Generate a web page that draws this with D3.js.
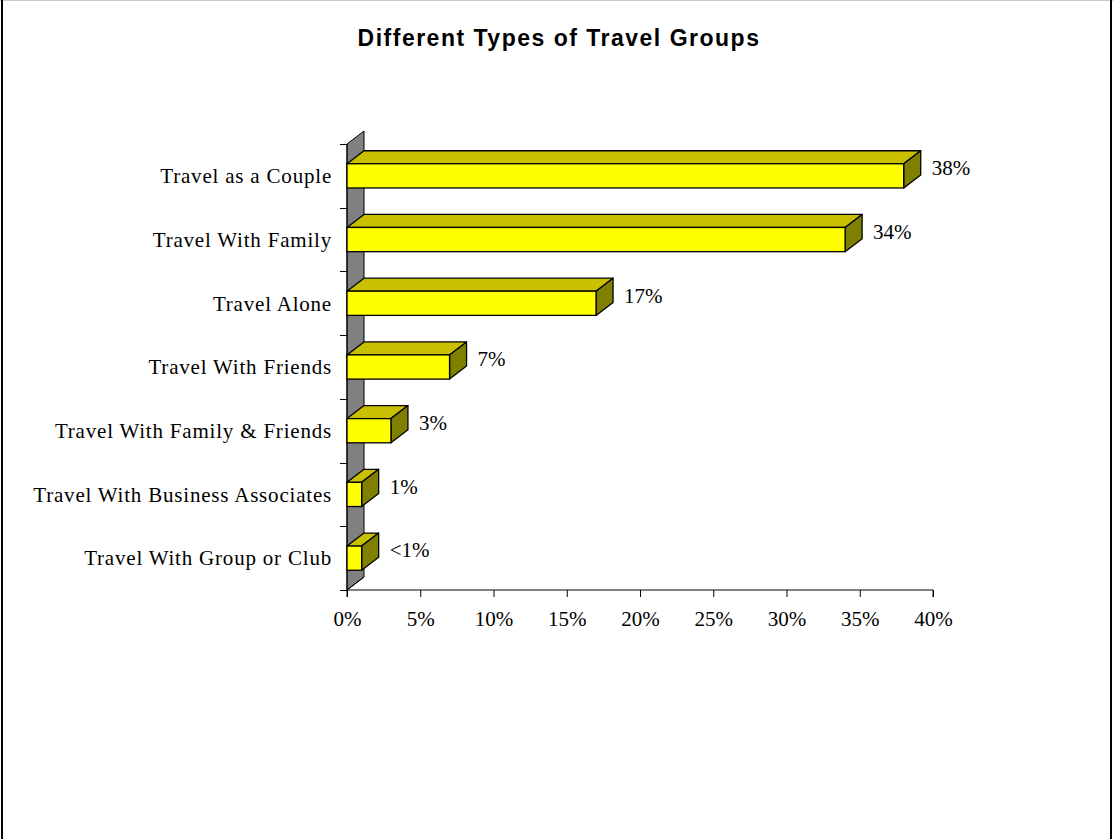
<!DOCTYPE html>
<html>
<head>
<meta charset="utf-8">
<script src="https://cdn.jsdelivr.net/npm/d3@7"></script>
<style>
  html, body { margin: 0; padding: 0; background: #fff; }
  svg { display: block; }
</style>
</head>
<body>
<svg id="chart" width="1113" height="839"></svg>
<script>
// Survey data: share of travellers by group type
const categories = [
  "Travel as a Couple",
  "Travel With Family",
  "Travel Alone",
  "Travel With Friends",
  "Travel With Family & Friends",
  "Travel With Business Associates",
  "Travel With Group or Club"
];
const values = [38, 34, 17, 7, 3, 1, 1];
const valueLabels = ["38%", "34%", "17%", "7%", "3%", "1%", "<1%"];
const xTicks = [0, 5, 10, 15, 20, 25, 30, 35, 40];

(function () {
  const W = 1113, H = 839;
  const svg = d3.select("#chart");

  // Page frame
  svg.append("rect").attr("x", 0).attr("y", 0).attr("width", W).attr("height", H).attr("fill", "#fff");
  svg.append("line").attr("x1", 0).attr("x2", W).attr("y1", 0.5).attr("y2", 0.5).attr("stroke", "#c8c8c8");
  svg.append("line").attr("x1", 2).attr("x2", 2).attr("y1", 0).attr("y2", H).attr("stroke", "#000").attr("stroke-width", 2);
  svg.append("line").attr("x1", 1111).attr("x2", 1111).attr("y1", 0).attr("y2", H).attr("stroke", "#000").attr("stroke-width", 2);

  // Title
  svg.append("text")
    .attr("x", 559).attr("y", 46)
    .attr("text-anchor", "middle")
    .attr("font-family", "Liberation Sans, Arial, sans-serif")
    .attr("font-weight", "bold")
    .attr("font-size", 23)
    .attr("letter-spacing", "1.5px")
    .text("Different Types of Travel Groups");

  // Plot geometry
  const pLeft = 347, pRight = 933, pTop = 144, pBottom = 590;
  const dx = 17, dy = -13; // 3D depth offset
  const serif = "Liberation Serif, Times New Roman, serif";
  const fs = 21;

  const x = d3.scaleLinear().domain([0, 40]).range([pLeft, pRight]);
  const y = d3.scaleBand().domain(categories).range([pTop, pBottom]).paddingInner(0.62).paddingOuter(0.31);

  // Back wall (grey) along the category axis
  svg.append("polygon")
    .attr("points", [[pLeft, pTop], [pLeft + dx, pTop + dy], [pLeft + dx, pBottom + dy], [pLeft, pBottom]].join(" "))
    .attr("fill", "#808080").attr("stroke", "#000").attr("stroke-width", 1);

  // Floor edge
  svg.append("line").attr("x1", pLeft).attr("y1", pBottom).attr("x2", pLeft + dx).attr("y2", pBottom + dy)
    .attr("stroke", "#000");

  // Category axis line and ticks
  svg.append("line").attr("x1", pLeft).attr("x2", pLeft).attr("y1", pTop).attr("y2", pBottom).attr("stroke", "#000");
  const bandStep = (pBottom - pTop) / categories.length;
  d3.range(categories.length + 1).forEach(i => {
    const yy = Math.round(pTop + i * bandStep) + 0.5;
    svg.append("line").attr("x1", pLeft - 7).attr("x2", pLeft).attr("y1", yy).attr("y2", yy).attr("stroke", "#000");
  });

  // Value axis
  const xAxis = d3.axisBottom(x).tickValues(xTicks).tickFormat(d => d + "%").tickSize(7).tickPadding(14);
  const gx = svg.append("g").attr("transform", `translate(0,${pBottom})`).call(xAxis);
  gx.select(".domain").attr("stroke", "#000").attr("d", `M${pLeft},7V0H${pRight}V7`);
  gx.selectAll(".tick line").attr("stroke", "#000");
  gx.selectAll(".tick text").attr("font-family", serif).attr("font-size", fs).attr("fill", "#000");

  // Bars as 3D boxes
  const bars = svg.append("g").selectAll("g").data(categories).join("g");
  bars.each(function (cat, i) {
    const g = d3.select(this);
    const x0 = x(0), x1 = x(values[i]);
    const y0 = y(cat), y1 = y(cat) + y.bandwidth();
    // top face
    g.append("polygon")
      .attr("points", [[x0, y0], [x0 + dx, y0 + dy], [x1 + dx, y0 + dy], [x1, y0]].join(" "))
      .attr("fill", "#C8C000").attr("stroke", "#000").attr("stroke-width", 1.3).attr("stroke-linejoin", "round");
    // side face
    g.append("polygon")
      .attr("points", [[x1, y0], [x1 + dx, y0 + dy], [x1 + dx, y1 + dy], [x1, y1]].join(" "))
      .attr("fill", "#808000").attr("stroke", "#000").attr("stroke-width", 1.3).attr("stroke-linejoin", "round");
    // front face
    g.append("rect")
      .attr("x", x0).attr("y", y0).attr("width", x1 - x0).attr("height", y1 - y0)
      .attr("fill", "#FFFF00").attr("stroke", "#000").attr("stroke-width", 1.3);
    // value label
    g.append("text")
      .attr("x", x1 + dx + 11)
      .attr("y", (y0 + dy + y1) / 2 - 1.5)
      .attr("dy", "0.35em")
      .attr("font-family", serif).attr("font-size", fs).attr("fill", "#000")
      .text(valueLabels[i]);
    // category label
    g.append("text")
      .attr("class", "cat")
      .attr("x", 332)
      .attr("y", (y0 + y1) / 2)
      .attr("dy", "0.35em")
      .attr("text-anchor", "end")
      .attr("font-family", serif).attr("font-size", fs).attr("fill", "#000")
      .attr("letter-spacing", "0.8px")
      .text(cat);
  });
})();
</script>
</body>
</html>
